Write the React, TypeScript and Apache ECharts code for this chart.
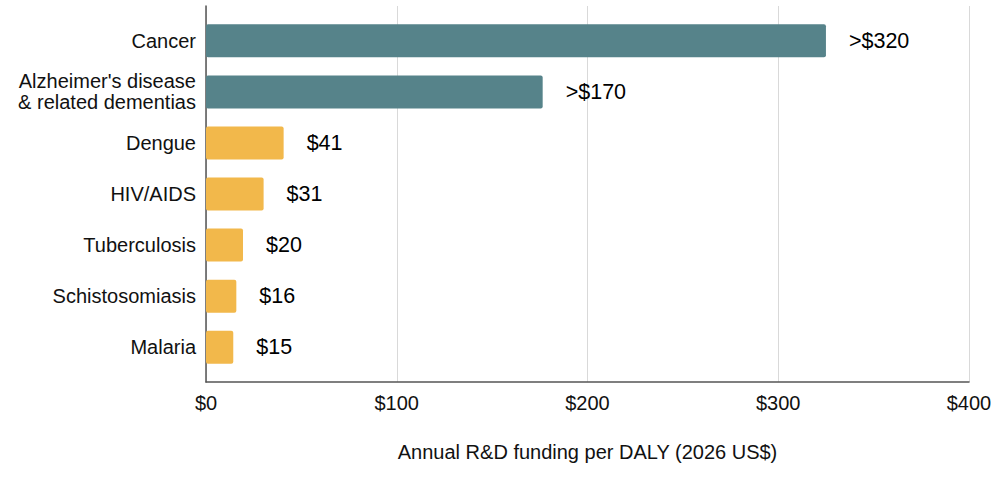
import { useEffect, useRef } from 'react';
import * as echarts from 'echarts';
import type { EChartsOption } from 'echarts';

const categories = [
  'Cancer',
  "Alzheimer's disease\n& related dementias",
  'Dengue',
  'HIV/AIDS',
  'Tuberculosis',
  'Schistosomiasis',
  'Malaria',
];
const values = [325, 176.5, 40.7, 30.2, 19.4, 15.9, 14.3];
const valueLabels = ['>$320', '>$170', '$41', '$31', '$20', '$16', '$15'];
const groups = ['high', 'high', 'low', 'low', 'low', 'low', 'low'];
const xTicks = [0, 100, 200, 300, 400];

const FONT = "'Liberation Sans', Arial, Helvetica, sans-serif";
const groupColors: Record<string, string> = { high: '#56838a', low: '#f2b84b' };

export default function App() {
  const chartRef = useRef<HTMLDivElement>(null);

  useEffect(() => {
    if (!chartRef.current) return;
    document.body.style.margin = '0';
    const chart = echarts.init(chartRef.current, undefined, { renderer: 'svg' });

    const option: EChartsOption = {
      animation: false,
      textStyle: { fontFamily: FONT },
      grid: [
        { left: 206, right: 31, top: 6, height: 376 },
        { left: 206, right: 31, top: 15.3, height: 357.5 },
      ],
      xAxis: [
        {
          gridIndex: 0,
          type: 'value',
          min: xTicks[0],
          max: xTicks[xTicks.length - 1],
          interval: 100,
          axisLine: { show: true, lineStyle: { color: '#555', width: 1.5 } },
          axisTick: { show: false },
          splitLine: { show: true, lineStyle: { color: '#d9d9d9', width: 1 } },
          axisLabel: {
            formatter: (v: number) => '$' + v,
            color: '#111',
            fontSize: 20,
            fontFamily: FONT,
            margin: 11,
          },
          name: 'Annual R&D funding per DALY (2026 US$)',
          nameLocation: 'middle',
          nameGap: 60,
          nameTextStyle: { color: '#111', fontSize: 20, fontFamily: FONT },
        },
        {
          gridIndex: 1,
          type: 'value',
          min: xTicks[0],
          max: xTicks[xTicks.length - 1],
          show: false,
        },
      ],
      yAxis: [
        {
          gridIndex: 0,
          type: 'value',
          axisLine: { show: true, lineStyle: { color: '#555', width: 1.5 } },
          axisTick: { show: false },
          axisLabel: { show: false },
          splitLine: { show: false },
        },
        {
          gridIndex: 1,
          type: 'category',
          inverse: true,
          data: categories,
          axisLine: { show: false },
          axisTick: { show: false },
          axisLabel: {
            color: '#111',
            fontSize: 20,
            lineHeight: 21,
            fontFamily: FONT,
            margin: 10,
          },
        },
      ],
      series: [
        {
          type: 'bar',
          xAxisIndex: 1,
          yAxisIndex: 1,
          barWidth: 33,
          data: values.map((v, i) => ({
            value: v,
            itemStyle: { color: groupColors[groups[i]], borderRadius: 2 },
          })),
          label: {
            show: true,
            position: 'right',
            distance: 23,
            formatter: (p: any) => valueLabels[p.dataIndex],
            color: '#000',
            fontSize: 21.5,
            fontFamily: FONT,
          },
        },
      ],
    };

    chart.setOption(option);

    return () => {
      chart.dispose();
    };
  }, []);

  return <div ref={chartRef} style={{ width: 1000, height: 478 }} />;
}
